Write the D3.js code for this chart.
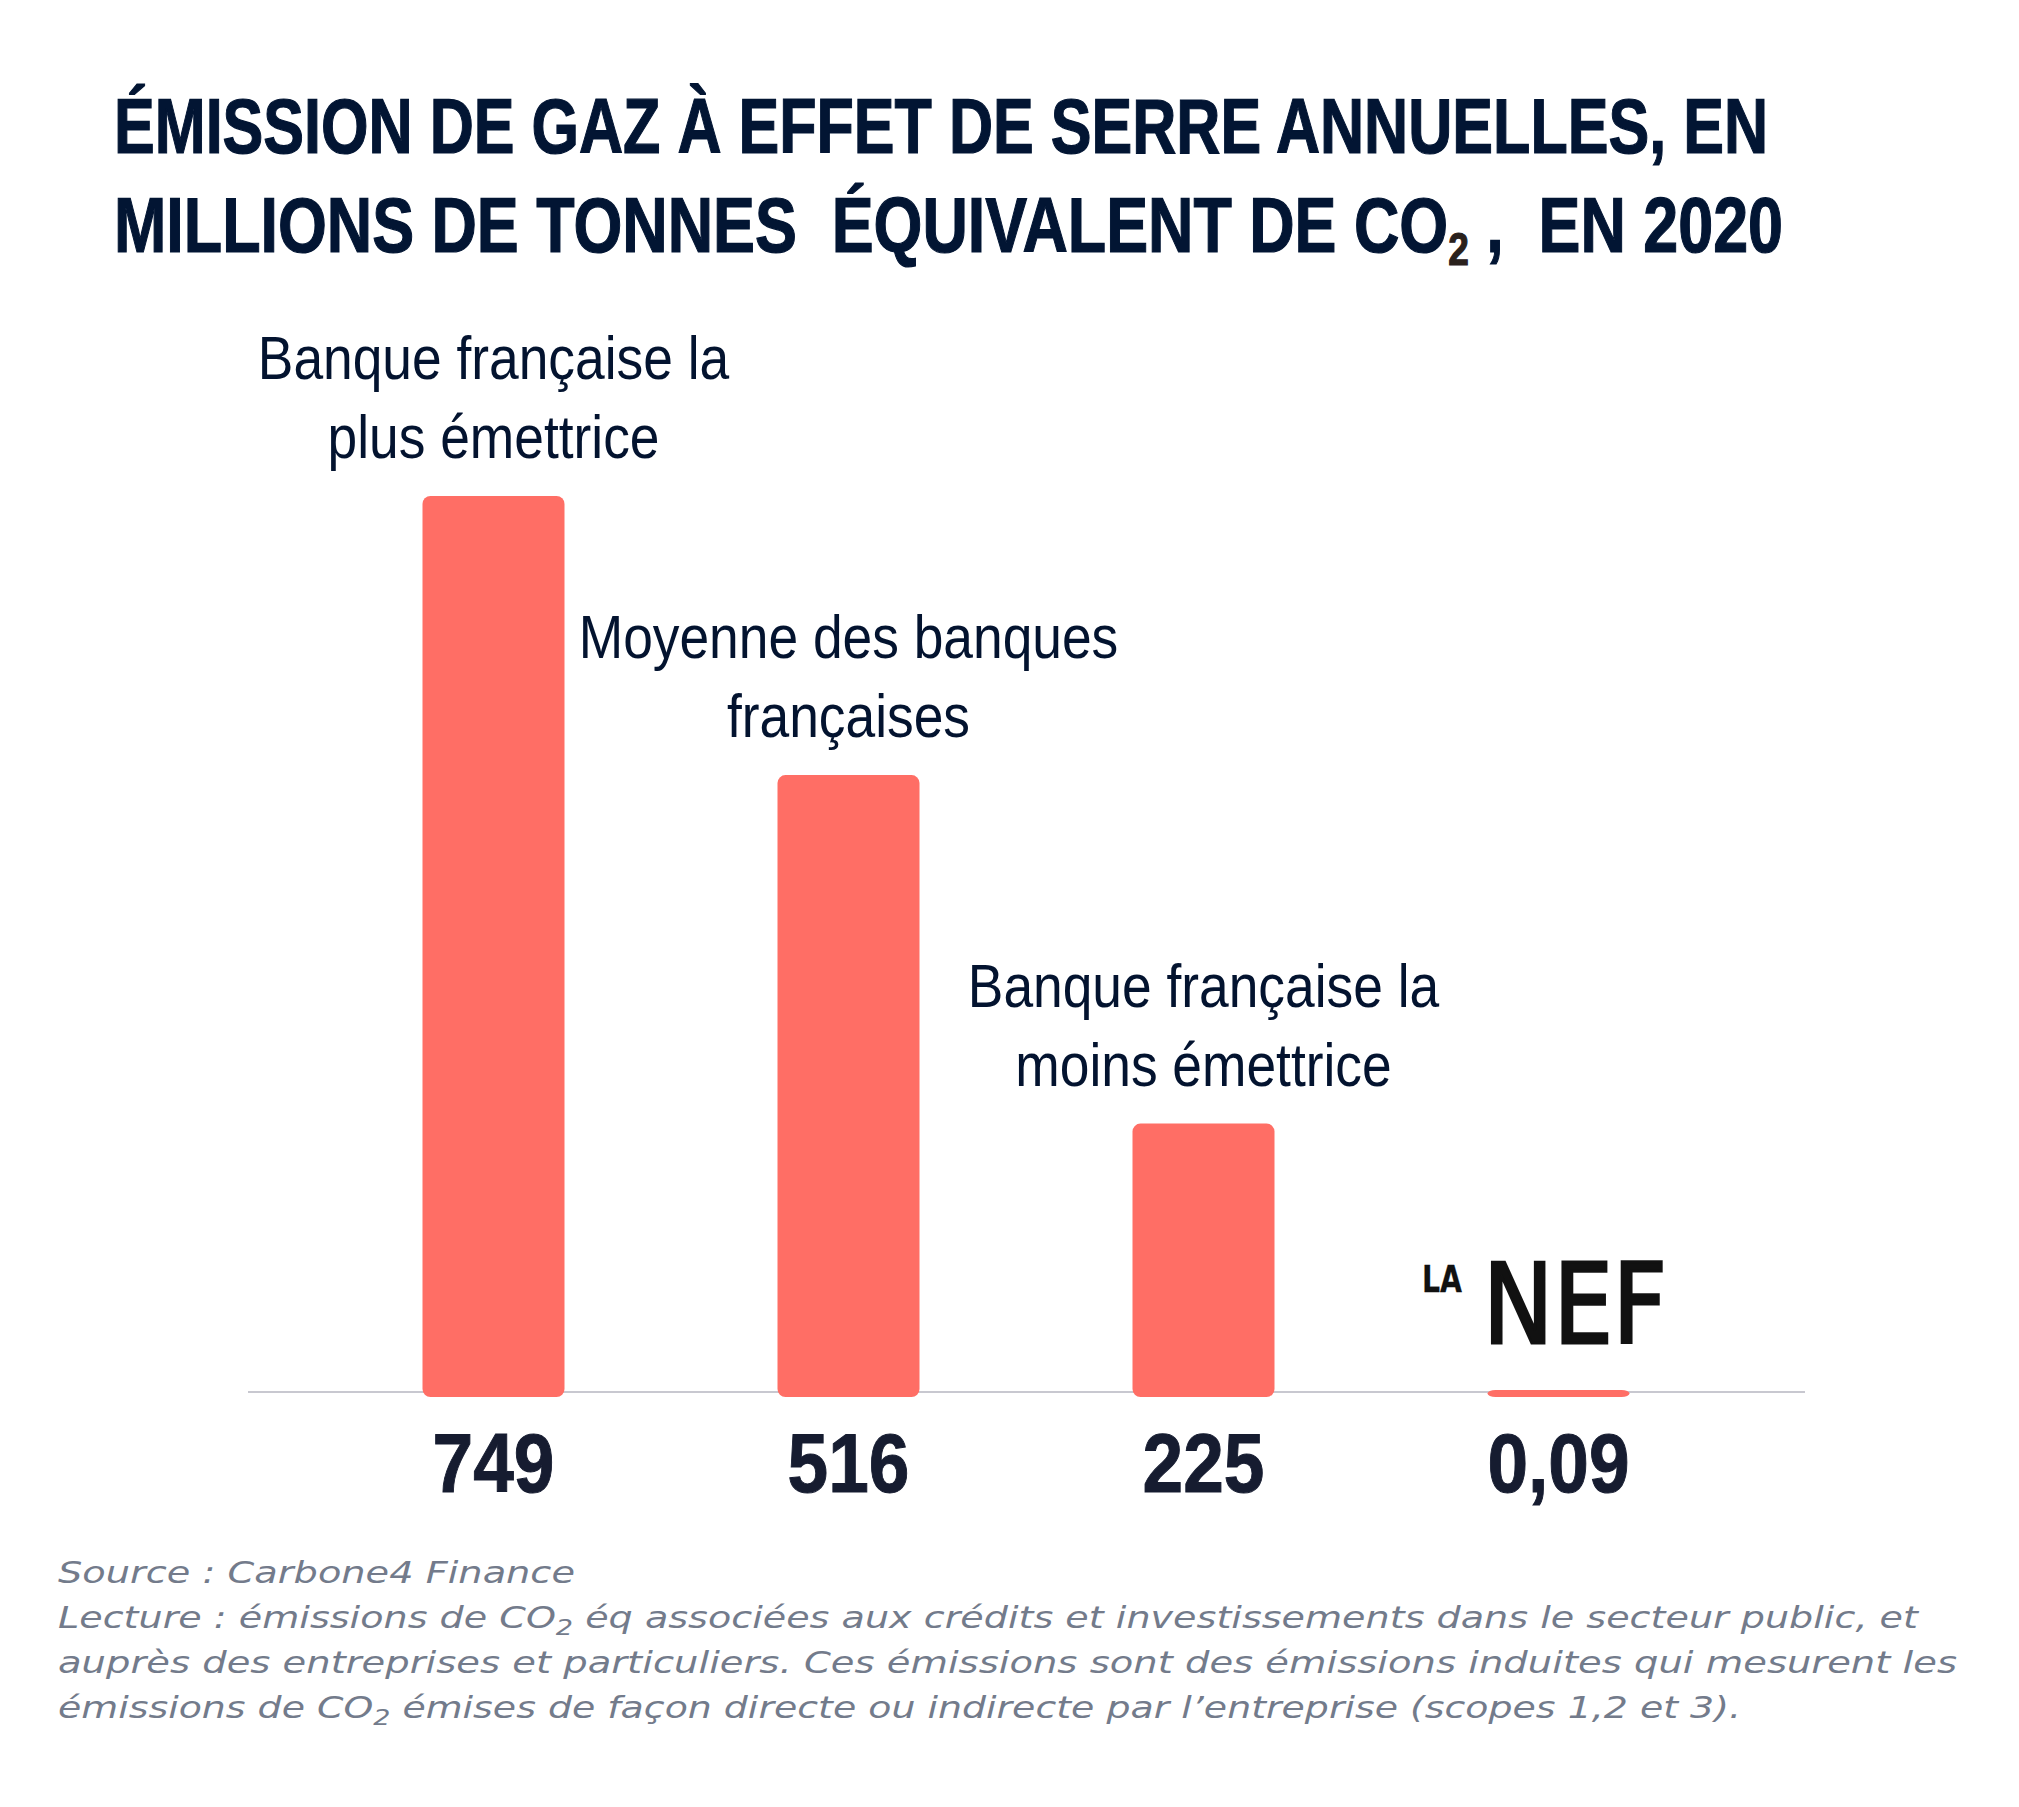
<!DOCTYPE html>
<html>
<head>
<meta charset="utf-8">
<script src="https://cdn.jsdelivr.net/npm/d3@7"></script>
<style>
body { margin: 0; background: #fff; }
</style>
</head>
<body>
<div id="chart"></div>
<script>
var WIDTH = 2019;
var HEIGHT = 1807;

// data
var categories = ["plus", "moyenne", "moins", "nef"];
var labelLines = [
	["Banque française la", "plus émettrice"],
	["Moyenne des banques", "françaises"],
	["Banque française la", "moins émettrice"],
	[]
];
var values = [749, 516, 225, 0.09];
var valueLabels = ["749", "516", "225", "0,09"];

var NAVY = "#021533";
var BAR = "#ff6e65";
var GREY = "#737b8b";

var svg = d3.select("#chart")
			.append("svg")
			.attr("width", WIDTH)
			.attr("height", HEIGHT)
			.style("background", "#fff");

// squeeze a text to look like a condensed face
function squeeze(sel, factor) {
	sel.each(function() {
		var w = this.getComputedTextLength();
		d3.select(this).attr("textLength", w * factor).attr("lengthAdjust", "spacingAndGlyphs");
	});
}
function fitTo(sel, width) {
	sel.attr("textLength", width).attr("lengthAdjust", "spacingAndGlyphs");
}

// TITLE
var title = svg.append("g")
			   .attr("font-family", "'Liberation Sans', Arial, sans-serif")
			   .attr("font-weight", "bold")
			   .attr("font-size", "78px")
			   .attr("fill", NAVY)
			   .attr("stroke", NAVY)
			   .attr("stroke-width", 1.2);

title.append("text")
	 .attr("x", 114)
	 .attr("y", 153)
	 .text("ÉMISSION DE GAZ À EFFET DE SERRE ANNUELLES, EN")
	 .call(fitTo, 1654);

var t2 = title.append("text")
			  .attr("x", 114)
			  .attr("y", 252);
t2.append("tspan").text("MILLIONS DE TONNES \u00a0ÉQUIVALENT DE CO");
t2.append("tspan").attr("dy", 13).attr("font-size", "46px")
  .attr("fill", "#2a211c").attr("stroke", "#2a211c").text("2");
t2.append("tspan").attr("dy", -13).text("\u00a0, \u00a0EN 2020");
t2.call(fitTo, 1669);

// SCALES
var x = d3.scaleBand()
		  .domain(categories)
		  .range([316, 1736])
		  .paddingInner(0.6)
		  .paddingOuter(0.3);

var y = d3.scaleLinear()
		  .domain([0, d3.max(values)])
		  .range([1393, 496]);

// baseline
svg.append("line")
   .attr("x1", 248)
   .attr("x2", 1805)
   .attr("y1", y(0) - 1)
   .attr("y2", y(0) - 1)
   .attr("stroke", "#c8c8d0")
   .attr("stroke-width", 2);

// BARS
svg.append("g")
   .selectAll("rect")
   .data(values)
   .join("rect")
   .attr("x", function(d, i) { return x(categories[i]); })
   .attr("width", x.bandwidth())
   .attr("y", function(d) { return Math.min(y(d), y(0) - 3); })
   .attr("height", function(d) { return Math.max(y(0) - y(d), 3) + 4; })
   .attr("rx", 8)
   .attr("fill", BAR);

// category labels above bars
var labels = svg.append("g")
				.attr("font-family", "'Liberation Sans', Arial, sans-serif")
				.attr("font-size", "62px")
				.attr("fill", "#03132f")
				.attr("text-anchor", "middle");

labelLines.forEach(function(lines, i) {
	var cx = x(categories[i]) + x.bandwidth() / 2;
	var top = y(values[i]) - 38;
	lines.forEach(function(line, j) {
		labels.append("text")
			  .attr("x", cx)
			  .attr("y", top - (lines.length - 1 - j) * 79)
			  .text(line)
			  .call(squeeze, 0.86);
	});
});

// value labels under the axis
svg.append("g")
   .attr("font-family", "'Liberation Sans', Arial, sans-serif")
   .attr("font-weight", "bold")
   .attr("font-size", "83px")
   .attr("fill", "#161c30")
   .attr("stroke", "#161c30")
   .attr("stroke-width", 1)
   .attr("text-anchor", "middle")
   .selectAll("text")
   .data(valueLabels)
   .join("text")
   .attr("x", function(d, i) { return x(categories[i]) + x.bandwidth() / 2; })
   .attr("y", 1492)
   .text(function(d) { return d; })
   .call(squeeze, 0.88);

// LA NEF logo
var logo = svg.append("g")
			  .attr("font-family", "'DejaVu Sans', sans-serif")
			  .attr("fill", "#111")
			  .attr("stroke", "#111");
logo.append("text")
	.attr("x", 1422)
	.attr("y", 1292)
	.attr("font-size", "38px")
	.attr("font-weight", "bold")
	.attr("stroke-width", 0.3)
	.text("LA")
	.call(fitTo, 40);
logo.append("text")
	.attr("x", 1483)
	.attr("y", 1343)
	.attr("font-size", "110px")
	.attr("stroke-width", 3)
	.text("NEF")
	.call(fitTo, 184);

// FOOTNOTE
var notes = svg.append("g")
			   .attr("font-family", "'DejaVu Sans', sans-serif")
			   .attr("font-style", "italic")
			   .attr("font-size", "31px")
			   .attr("fill", GREY);

notes.append("text").attr("x", 58).attr("y", 1583)
	 .text("Source : Carbone4 Finance").call(fitTo, 517);

var n2 = notes.append("text").attr("x", 58).attr("y", 1628);
n2.append("tspan").text("Lecture : émissions de CO");
n2.append("tspan").attr("dy", 7).attr("font-size", "22px").text("2");
n2.append("tspan").attr("dy", -7).text(" éq associées aux crédits et investissements dans le secteur public, et");
n2.call(fitTo, 1860);

notes.append("text").attr("x", 58).attr("y", 1673)
	 .text("auprès des entreprises et particuliers. Ces émissions sont des émissions induites qui mesurent les")
	 .call(fitTo, 1899);

var n4 = notes.append("text").attr("x", 58).attr("y", 1718);
n4.append("tspan").text("émissions de CO");
n4.append("tspan").attr("dy", 7).attr("font-size", "22px").text("2");
n4.append("tspan").attr("dy", -7).text(" émises de façon directe ou indirecte par l’entreprise (scopes 1,2 et 3).");
n4.call(fitTo, 1683);
</script>
</body>
</html>
